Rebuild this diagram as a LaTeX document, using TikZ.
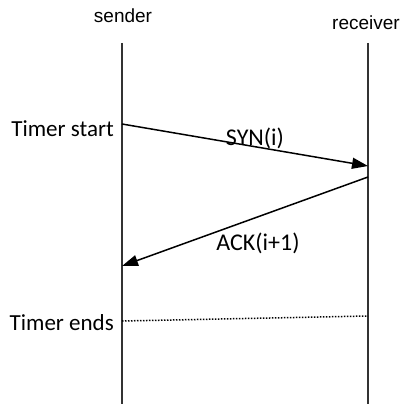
\documentclass[tikz,border=0pt]{standalone}
\usepackage{fontspec}
\setmainfont{Carlito}
\newfontfamily\headfont{Liberation Sans}
\usetikzlibrary{arrows.meta}
\begin{document}
\begin{tikzpicture}[x=1pt,y=-1pt,
  lifeline/.style={line width=1.8pt,draw=black!80},
  msg/.style={line width=1.5pt,-{Triangle[length=16pt,width=11pt]}},
  timeout/.style={line width=1.5pt,dash pattern=on 1.5pt off 1.5pt},
  actor/.style={font=\headfont\fontsize{19}{22}\selectfont,inner sep=0pt,anchor=base},
  tag/.style={font=\fontsize{23}{27}\selectfont,inner sep=0pt,anchor=base east},
  msglabel/.style={font=\fontsize{24}{28}\selectfont,inner sep=0pt,anchor=base}]
\useasboundingbox (0,0) rectangle (401,404);
% participants
\node[actor] (snd) at (123,23) {sender};
\node[actor] (rcv) at (366,30) {receiver};
% lifelines
\coordinate (sTop) at (122,43);
\coordinate (sBot) at (122,404);
\coordinate (rTop) at (368,43);
\coordinate (rBot) at (368,404);
\draw[lifeline] (sTop) -- (sBot);
\draw[lifeline] (rTop) -- (rBot);
% message end points
\coordinate (synA) at (122,124);
\coordinate (synB) at (368,166);
\coordinate (ackA) at (368,177);
\coordinate (ackB) at (122,266);
\coordinate (endA) at (122,321);
\coordinate (endB) at (368,316);
% messages
\draw[msg] (synA) -- (synB);
\draw[msg] (ackA) -- (ackB);
\draw[timeout] (endA) -- (endB);
% labels
\node[tag] (tstart) at (114,136) {Timer start};
\node[tag] (tend) at (114,330) {Timer ends};
\node[msglabel] (synl) at (255,145) {SYN(i)};
\node[msglabel] (ackl) at (258,250) {ACK(i+1)};
\end{tikzpicture}
\end{document}
